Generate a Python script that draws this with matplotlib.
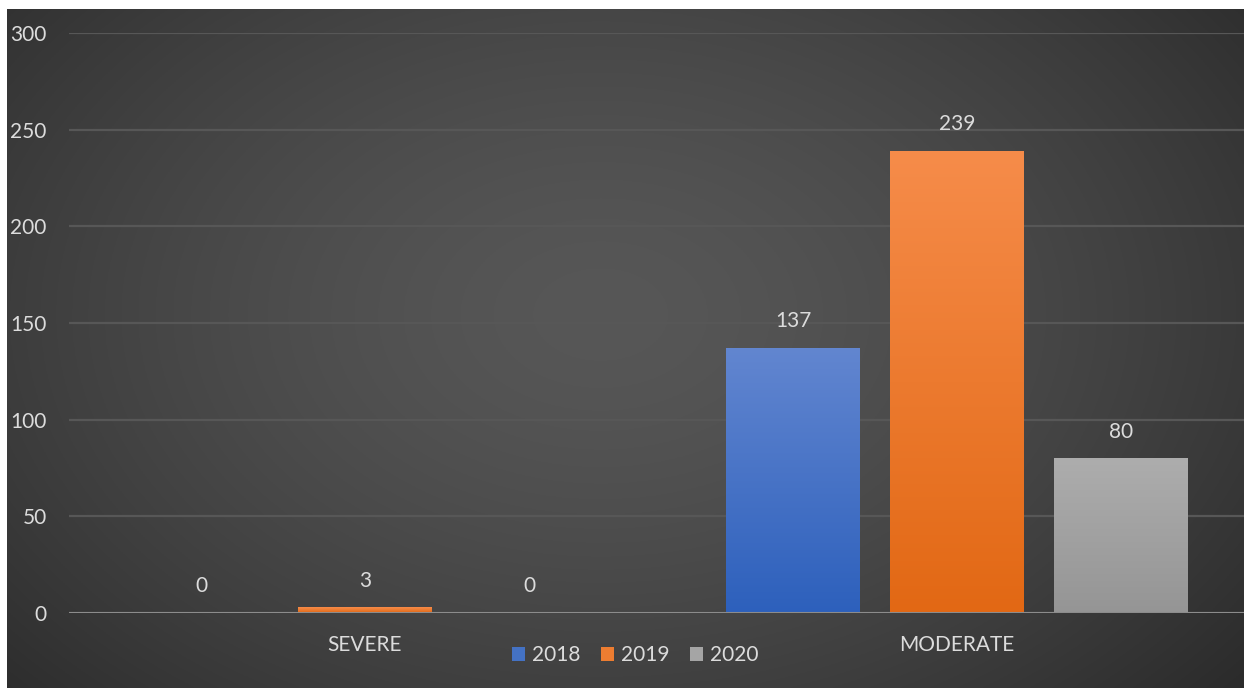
import numpy as np
import matplotlib
matplotlib.use("Agg")
import matplotlib.pyplot as plt
from matplotlib.colors import LinearSegmentedColormap, to_rgb

plt.rcParams['font.family'] = ['Lato', 'DejaVu Sans']

categories = ["SEVERE", "MODERATE"]
years = ["2018", "2019", "2020"]
values_2018 = [0, 137]
values_2019 = [3, 239]
values_2020 = [0, 80]
y_ticks = [0, 50, 100, 150, 200, 250, 300]

series = [values_2018, values_2019, values_2020]
top_colors = ["#6286d0", "#f68c4a", "#adadad"]
bottom_colors = ["#2d60bc", "#e26814", "#959595"]
legend_colors = ["#4472c4", "#ed7d31", "#a5a5a5"]
text_color = "#dcdcdc"
fs = 15

W, H, DPI = 1244, 688, 100
fig = plt.figure(figsize=(W / DPI, H / DPI), dpi=DPI, facecolor="white")

# dark panel with a soft radial highlight
x0, y1 = 7 / W, 1 - 9 / H
bg = fig.add_axes([x0, 0, 1 - x0, y1], zorder=0)
gx, gy = np.meshgrid(np.linspace(0, 1, 600), np.linspace(0, 1, 400))
r = np.sqrt(((gx - 0.48) / 0.72) ** 2 + ((gy - 0.55) / 0.9) ** 2)
r = np.clip(r, 0, 1)
c_in, c_out = 0x57 / 255, 0x27 / 255
shade = c_in + (c_out - c_in) * r ** 1.5
bg.imshow(np.dstack([shade] * 3), extent=[0, 1, 0, 1], origin="lower", aspect="auto")
bg.set_axis_off()

# plot area: x from -0.5..1.5 spans px 69..1253, y 0..300 spans px 613..33
left_px, right_px = 69, 1253
top_px, bot_px = 33, 613
ax = fig.add_axes([left_px / W, 1 - bot_px / H, (right_px - left_px) / W, (bot_px - top_px) / H], zorder=1)
ax.set_facecolor("none")
ax.set_xlim(-0.5, 1.5)
ax.set_ylim(0, 300)
for s in ax.spines.values():
    s.set_visible(False)
ax.set_yticks(y_ticks)
ax.set_yticklabels([str(t) for t in y_ticks])
ax.tick_params(axis="y", length=0, pad=16, colors=text_color, labelsize=fs)
ax.set_xticks(range(len(categories)))
ax.set_xticklabels(categories)
ax.tick_params(axis="x", length=0, pad=16, colors=text_color, labelsize=fs)
ax.grid(axis="y", color="#575757", linewidth=1.6)
ax.set_axisbelow(True)

width = 0.226
offsets = [-0.277, 0.0, 0.277]
xs = np.arange(len(categories))
for vals, off, ct, cb, lc, yr in zip(series, offsets, top_colors, bottom_colors, legend_colors, years):
    bars = ax.bar(xs + off, vals, width, color=lc, zorder=2, label=yr)
    cmap = LinearSegmentedColormap.from_list("g", [to_rgb(cb), to_rgb(ct)])
    for b, v in zip(bars, vals):
        if v <= 0:
            b.set_visible(False)
        else:
            bx, bw = b.get_x(), b.get_width()
            grad = np.linspace(0, 1, 256).reshape(-1, 1)
            im = ax.imshow(grad, cmap=cmap, origin="lower", aspect="auto",
                           extent=[bx, bx + bw, 0, v], zorder=2.5)
            im.set_clip_path(b)
            b.set_facecolor("none")
        ax.annotate(str(v), (b.get_x() + b.get_width() / 2, v), xytext=(0, 12),
                    textcoords="offset points", ha="center", va="bottom",
                    color=text_color, fontsize=fs, zorder=4)

ax.set_xlim(-0.5, 1.5)
ax.set_ylim(0, 300)
ax.axhline(0, color="#8c8c8c", linewidth=2.2, zorder=3)

handles = [plt.Rectangle((0, 0), 1, 1, facecolor=c) for c in legend_colors]
leg = fig.legend(handles, years, loc="center", bbox_to_anchor=(635 / W, 1 - 655 / H),
                 ncol=3, frameon=False, fontsize=fs, labelcolor=text_color,
                 handlelength=0.65, handleheight=0.65, handletextpad=0.3, columnspacing=1.0)

fig.savefig("out.png", dpi=DPI, facecolor="white")
